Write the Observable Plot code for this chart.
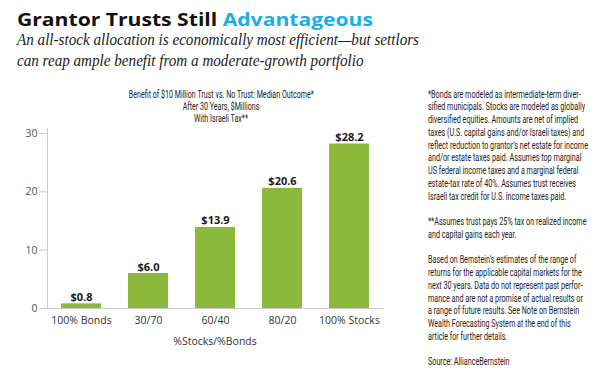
<!DOCTYPE html>
<html>
<head>
<meta charset="utf-8">
<script src="https://cdn.jsdelivr.net/npm/d3@7"></script>
<script src="https://cdn.jsdelivr.net/npm/@observablehq/plot@0.6"></script>
<style>
  html, body { margin: 0; padding: 0; background: #fff; }
  #page { position: relative; width: 595px; height: 383px; overflow: hidden; background: #fff; }
  .abs { position: absolute; }
  #title { left: 17px; top: 10px; font-family: "Open Sans", sans-serif; font-weight: 700; font-size: 18px; line-height: 18px; white-space: nowrap; color: #111; transform-origin: left top; display: inline-block; }
  #title .hl { color: #1aaee6; }
  #subtitle { left: 17px; top: 29px; font-family: "Liberation Serif", serif; font-style: italic; font-size: 16px; line-height: 21px; color: #222; transform-origin: left top; white-space: nowrap; }
  #subtitle span { display: inline-block; }
  #ctitle { left: 0px; top: 89px; width: 442px; text-align: center; font-family: "Roboto", sans-serif; font-size: 10px; line-height: 12px; color: #222; }
  #ctitle span { display: inline-block; white-space: nowrap; transform-origin: center top; }
  #notes { left: 428px; top: 88.6px; font-family: "Roboto", sans-serif; font-size: 10px; line-height: 12.75px; color: #222; transform-origin: left top; }
  #notes div { white-space: nowrap; height: 12.75px; }
  #xlabel { left: 0px; width: 430px; top: 334px; text-align: center; font-family: "Open Sans", sans-serif; font-size: 10.5px; color: #333; }
  #chart { left: 0px; top: 120px; }
</style>
</head>
<body>
<div id="page">
  <div id="title" class="abs">Grantor Trusts Still <span class="hl">Advantageous</span></div>
  <div id="subtitle" class="abs"><span id="sub1">An all-stock allocation is economically most efficient—but settlors</span><br><span>can reap ample benefit from a moderate-growth portfolio</span></div>
  <div id="ctitle" class="abs"></div>
  <div id="chart" class="abs"></div>
  <div id="xlabel" class="abs">%Stocks/%Bonds</div>
  <div id="notes" class="abs"></div>
</div>
<script>
const categories = ["100% Bonds", "30/70", "60/40", "80/20", "100% Stocks"];
const values = [0.8, 6.0, 13.9, 20.6, 28.2];
const yTicks = [0, 10, 20, 30];
const chartTitleLines = [
  "Benefit of $10 Million Trust vs. No Trust: Median Outcome*",
  "After 30 Years, $Millions",
  "With Israeli Tax**"
];
const noteLines = [
  "*Bonds are modeled as intermediate-term diver-",
  "sified municipals. Stocks are modeled as globally",
  "diversified equities. Amounts are net of implied",
  "taxes (U.S. capital gains and/or Israeli taxes) and",
  "reflect reduction to grantor\u2019s net estate for income",
  "and/or estate taxes paid. Assumes top marginal",
  "US federal income taxes and a marginal federal",
  "estate-tax rate of 40%. Assumes trust receives",
  "Israeli tax credit for U.S. income taxes paid.",
  "",
  "**Assumes trust pays 25% tax on realized income",
  "and capital gains each year.",
  "",
  "Based on Bernstein\u2019s estimates of the range of",
  "returns for the applicable capital markets for the",
  "next 30 years. Data do not represent past perfor-",
  "mance and are not a promise of actual results or",
  "a range of future results. See Note on Bernstein",
  "Wealth Forecasting System at the end of this",
  "article for further details.",
  "",
  "Source: AllianceBernstein"
];

const data = categories.map((c, i) => ({cat: c, val: values[i]}));
const green = "#8cb83b";

const plot = Plot.plot({
  width: 400,
  height: 235,
  marginLeft: 47,
  marginRight: 18,
  marginTop: 8,
  marginBottom: 47,
  style: {fontFamily: "Open Sans, sans-serif", fontSize: "10.5px", background: "transparent", overflow: "visible"},
  x: {domain: categories, paddingInner: 0.41, paddingOuter: 0.18},
  y: {domain: [0, 30.86]},
  marks: [
    Plot.barY(data, {x: "cat", y: "val", fill: green}),
    Plot.text(data, {x: "cat", y: "val", text: d => "$" + d.val.toFixed(1), dy: -3, lineAnchor: "bottom", fontWeight: "bold", fontSize: 11, fill: "#1a1a1a"}),
    Plot.axisY({ticks: yTicks, tickSize: 8, tickPadding: 2, stroke: "#c8c8c8", fill: "#555", fontSize: 10.5, label: null}),
    Plot.axisX({tickSize: 0, tickPadding: 8, fill: "#333", fontSize: 10.5, label: null}),
    Plot.frame({anchor: "left", stroke: "#cccccc"}),
    Plot.frame({anchor: "bottom", stroke: "#cccccc"})
  ]
});
document.getElementById("chart").appendChild(plot);

// chart title lines
const ct = document.getElementById("ctitle");
chartTitleLines.forEach((t, i) => {
  const s = document.createElement("span");
  s.textContent = t;
  ct.appendChild(s);
  if (i < chartTitleLines.length - 1) ct.appendChild(document.createElement("br"));
});
const ctSpans = ct.querySelectorAll("span");
const ctScale = 185 / ctSpans[0].getBoundingClientRect().width;
ctSpans.forEach(s => s.style.transform = `scaleX(${ctScale})`);

// notes
const nt = document.getElementById("notes");
noteLines.forEach(t => {
  const d = document.createElement("div");
  const s = document.createElement("span");
  s.textContent = t;
  d.appendChild(s);
  nt.appendChild(d);
});
const refSpan = nt.querySelectorAll("span")[4];
const nScale = 160 / refSpan.getBoundingClientRect().width;
nt.style.transform = `scaleX(${nScale})`;

// title fit
const ti = document.getElementById("title");
ti.style.transform = `scaleX(${356 / ti.getBoundingClientRect().width})`;
const sub1 = document.getElementById("sub1");
document.getElementById("subtitle").style.transform = `scaleX(${402 / sub1.getBoundingClientRect().width})`;
</script>
</body>
</html>
